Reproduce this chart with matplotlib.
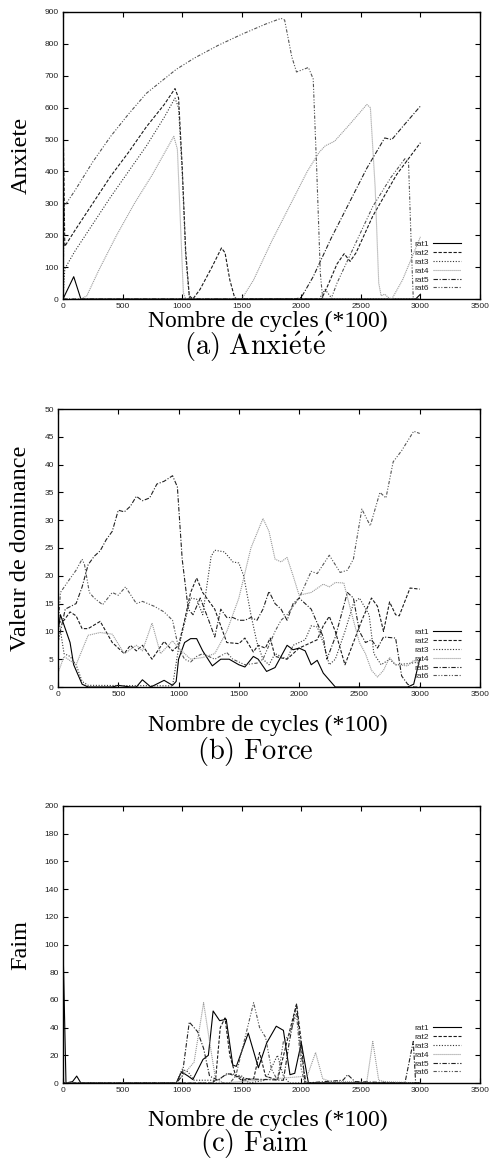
import matplotlib
matplotlib.use("Agg")
import matplotlib.pyplot as plt

# noms des series
rats = ["rat1", "rat2", "rat3", "rat4", "rat5", "rat6"]

# (a) Anxiete : points (cycle, valeur)
anx_rat1 = [(0, 0), (90, 70), (150, 0), (2960, 0), (3000, 15)]
anx_rat2 = [(0, 600), (15, 165), (100, 215), (250, 300), (400, 385), (550, 460), (700, 540),
            (850, 610), (940, 660), (970, 630), (1000, 420), (1030, 150), (1060, 10), (1090, 0),
            (1150, 30), (1250, 100), (1330, 160), (1360, 145), (1400, 60), (1440, 5), (1460, 0),
            (2170, 0), (2220, 40), (2300, 110), (2360, 142), (2410, 118), (2460, 145), (2600, 260),
            (2800, 390), (3000, 490)]
anx_rat3 = [(0, 0), (15, 95), (100, 150), (250, 235), (400, 320), (550, 400), (700, 480),
            (850, 570), (940, 630), (970, 600), (1000, 400), (1030, 130), (1060, 5), (1090, 0),
            (2150, 0), (2200, 30), (2260, 0), (3000, 0)]
anx_rat4 = [(0, 0), (150, 0), (200, 10), (300, 90), (450, 200), (600, 300), (750, 390), (930, 510),
            (960, 470), (990, 200), (1010, 20), (1030, 0), (1500, 0), (1600, 60), (1750, 180),
            (1900, 290), (2050, 400), (2150, 460), (2200, 480), (2280, 495), (2400, 545),
            (2550, 610), (2580, 600), (2620, 350), (2650, 50), (2670, 10), (2700, 15), (2730, 5),
            (2760, 0), (2850, 60), (2950, 150), (3000, 195)]
anx_rat5 = [(0, 0), (1950, 0), (2000, 5), (2100, 70), (2250, 190), (2400, 300), (2550, 410),
            (2700, 505), (2760, 500), (2850, 540), (3000, 605)]
anx_rat6 = [(0, 0), (10, 290), (100, 340), (250, 430), (400, 510), (550, 580), (700, 645),
            (850, 690), (950, 720), (1100, 755), (1300, 795), (1500, 830), (1700, 862), (1830, 880),
            (1860, 875), (1920, 760), (1960, 712), (2060, 726), (2100, 690), (2130, 400),
            (2160, 80), (2180, 0), (2250, 0), (2300, 50), (2450, 170), (2600, 290), (2750, 380),
            (2870, 440), (2900, 430), (2920, 200), (2940, 0), (3000, 0)]

# (b) Force
force_rat1 = [(0, 10), (20, 13), (100, 8), (130, 4), (200, 0.5), (250, 0), (450, 0), (500, 0.3),
              (600, 0), (650, 0), (700, 1.3), (770, 0), (880, 1.2), (950, 0.3), (980, 1), (1000, 5),
              (1050, 8), (1100, 8.7), (1150, 8.7), (1200, 6.5), (1280, 3.8), (1350, 5), (1420, 5),
              (1500, 4), (1550, 3.6), (1620, 5.5), (1660, 5), (1730, 2.8), (1800, 3.5), (1900, 7.5),
              (1950, 6.7), (2000, 7), (2050, 6.5), (2100, 4), (2150, 4.8), (2200, 2.5), (2300, 0),
              (2900, 0), (2950, 0.5), (3000, 5)]
force_rat2 = [(0, 11.5), (50, 12), (100, 13.5), (150, 12.8), (200, 10.5), (250, 10.5), (350, 11.8),
              (450, 8), (550, 6), (600, 7.5), (650, 6.5), (700, 7.5), (780, 5), (880, 8.2), (950, 6.5),
              (1000, 7.5), (1050, 12), (1100, 17), (1150, 19.6), (1200, 17), (1300, 14), (1400, 8),
              (1500, 7.8), (1550, 8.8), (1620, 6.3), (1660, 7.5), (1720, 7), (1760, 8.8), (1800, 5.5),
              (1900, 5), (2000, 7), (2100, 8), (2150, 8.5), (2200, 11), (2250, 12.7), (2300, 10),
              (2380, 4), (2450, 8), (2520, 12), (2600, 16), (2650, 14.5), (2700, 10), (2750, 15.3),
              (2800, 13), (2830, 12.8), (2920, 17.8), (3000, 17.6)]
force_rat3 = [(0, 13), (50, 6), (100, 5.5), (150, 4), (200, 1), (250, 0.3), (950, 0.2), (1000, 7),
              (1100, 16), (1150, 15.8), (1200, 13), (1270, 23.5), (1300, 24.6), (1380, 24.3),
              (1450, 22.5), (1500, 22.3), (1540, 20), (1600, 13), (1650, 8), (1700, 5), (1750, 4),
              (1800, 6), (1900, 5), (1950, 7.5), (2050, 8.5), (2100, 11), (2150, 10.8), (2200, 8),
              (2250, 4), (2300, 5), (2380, 10), (2450, 15), (2500, 16), (2580, 13), (2620, 6),
              (2680, 4), (2750, 5), (2800, 4), (2900, 4.2), (3000, 4.5)]
force_rat4 = [(0, 2.5), (50, 5.5), (150, 4), (250, 9.3), (350, 9.8), (450, 9.5), (550, 6), (650, 7.5),
              (700, 6.5), (780, 11.5), (850, 6), (950, 8.3), (1000, 7), (1100, 5), (1200, 5.3),
              (1300, 6), (1400, 10), (1500, 16), (1600, 25), (1700, 30.3), (1750, 28), (1800, 23),
              (1850, 22.5), (1900, 23.3), (1950, 20), (2000, 16.5), (2100, 17), (2200, 18.5),
              (2250, 18), (2300, 18.8), (2370, 18.7), (2450, 12), (2500, 8), (2550, 6), (2600, 3),
              (2650, 1.8), (2700, 3), (2750, 5.3), (2800, 4), (2900, 3.8), (2950, 4.8), (3000, 4)]
force_rat5 = [(0, 8), (60, 14), (150, 15), (200, 18), (250, 22), (300, 23.5), (350, 24.5),
              (400, 26.5), (450, 28), (500, 31.8), (550, 31.5), (600, 32.5), (650, 34.3), (700, 33.5),
              (760, 34), (820, 36.5), (880, 37), (950, 38), (990, 36), (1030, 23), (1080, 14),
              (1120, 13), (1180, 16), (1250, 12), (1300, 9), (1350, 14), (1400, 12.5), (1450, 12.5),
              (1500, 12), (1550, 12), (1600, 12.5), (1650, 12), (1700, 14), (1750, 17.2), (1800, 15),
              (1850, 14), (1900, 12), (1950, 15), (2000, 16), (2100, 14), (2200, 9), (2230, 5),
              (2300, 9), (2400, 17), (2450, 16), (2500, 10), (2550, 8), (2600, 8.5), (2650, 7),
              (2700, 9), (2800, 8.8), (2850, 2), (2900, 0.5), (2950, 0), (3000, 0)]
force_rat6 = [(0, 10), (20, 17), (100, 19.5), (150, 21), (200, 23), (220, 22), (260, 17), (300, 16),
              (370, 14.8), (450, 17), (500, 16.5), (560, 18), (650, 15), (700, 15.4), (800, 14.5),
              (880, 13.5), (950, 12), (1000, 7), (1050, 5), (1100, 4.5), (1150, 5.5), (1200, 6),
              (1300, 5), (1400, 6.2), (1450, 5), (1550, 4), (1650, 4.3), (1700, 5), (1800, 10),
              (1850, 12), (1900, 13), (2000, 16), (2100, 20.8), (2150, 20.4), (2250, 23.7),
              (2340, 20.6), (2400, 21), (2450, 23), (2520, 32), (2590, 29), (2670, 35), (2720, 34),
              (2780, 40.5), (2850, 42.5), (2950, 46), (3000, 45.6)]

# (c) Faim
faim_rat1 = [(0, 100), (25, 0), (80, 1), (115, 5), (150, 0), (950, 0), (995, 8), (1050, 5),
             (1090, 2.5), (1175, 17), (1220, 20), (1260, 52), (1315, 45), (1370, 46), (1425, 13),
             (1455, 12), (1555, 36), (1640, 11), (1710, 29), (1790, 41), (1850, 38), (1905, 6),
             (1945, 7), (2000, 29), (2060, 0), (3000, 0)]
faim_rat2 = [(0, 0), (1250, 0), (1280, 2), (1320, 40), (1360, 47), (1400, 20), (1450, 5),
             (1500, 2), (1600, 3), (1650, 22), (1700, 5), (1800, 2), (1880, 30), (1960, 57),
             (2000, 30), (2030, 0), (3000, 0)]
faim_rat3 = [(0, 0), (950, 0), (1000, 10), (1050, 8), (1100, 2), (1300, 2), (1350, 5), (1400, 7),
             (1500, 5), (1560, 0), (1700, 2), (1800, 20), (1850, 5), (1900, 0), (3000, 0)]
faim_rat4 = [(0, 0), (950, 0), (1050, 10), (1100, 15), (1180, 58), (1230, 30), (1280, 3),
             (1350, 0), (2050, 5), (2120, 22), (2180, 3), (2250, 1), (2550, 1), (2600, 30),
             (2650, 2), (2700, 1), (3000, 0)]
faim_rat5 = [(0, 0), (950, 0), (1000, 5), (1060, 44), (1130, 37), (1180, 25), (1230, 5), (1300, 2),
             (1380, 7), (1450, 5), (1550, 3), (1850, 2), (1900, 30), (1960, 57), (2000, 20),
             (2040, 0), (2350, 2), (2390, 6), (2450, 1), (2870, 0), (2940, 30), (2960, 0), (3000, 0)]
faim_rat6 = [(0, 0), (1400, 0), (1450, 5), (1520, 30), (1600, 58), (1650, 40), (1700, 33),
             (1750, 10), (1800, 2), (1850, 30), (1900, 35), (1960, 50), (2000, 10), (2030, 0),
             (3000, 0)]

anx_data = [anx_rat1, anx_rat2, anx_rat3, anx_rat4, anx_rat5, anx_rat6]
force_data = [force_rat1, force_rat2, force_rat3, force_rat4, force_rat5, force_rat6]
faim_data = [faim_rat1, faim_rat2, faim_rat3, faim_rat4, faim_rat5, faim_rat6]

# styles type gnuplot monochrome
colors = ["#000000", "#1a1a1a", "#333333", "#9a9a9a", "#222222", "#555555"]
styles = ["-", (0, (3, 1.5)), (0, (1, 1.5)), (0, (1, 0.8)),
          (0, (4, 1.5, 1, 1.5)), (0, (3, 1.5, 1, 1.5, 1, 1.5))]

SANS = "Liberation Sans"
SERIF = "Liberation Serif"


def draw_panel(fig, rect, data, ymax, ystep, ylabel, xlabel_y, caption, caption_y):
    ax = fig.add_axes(rect)
    for pts, name, c, ls in zip(data, rats, colors, styles):
        xs = [p[0] for p in pts]
        ys = [p[1] for p in pts]
        ax.plot(xs, ys, color=c, linestyle=ls, linewidth=0.8, label=name)
    ax.set_xlim(0, 3500)
    ax.set_ylim(0, ymax)
    ax.set_xticks(range(0, 3501, 500))
    ax.set_yticks(range(0, ymax + 1, ystep))
    ax.tick_params(direction="in", top=True, right=True, length=3.5, width=0.8,
                   labelsize=6, pad=3)
    for lab in ax.get_xticklabels() + ax.get_yticklabels():
        lab.set_fontfamily(SANS)
        lab.set_color("#222222")
    for sp in ax.spines.values():
        sp.set_linewidth(1.0)
    leg = ax.legend(loc="lower right", bbox_to_anchor=(0.97, 0.0), frameon=False,
                    markerfirst=False, prop={"family": SANS, "size": 6}, handlelength=3.3,
                    handletextpad=0.5, labelspacing=0.12, borderaxespad=0.4)
    for t in leg.get_texts():
        t.set_color("#222222")

    # libelles
    ymid = rect[1] + rect[3] / 2
    fig.text(21 / 490, ymid, ylabel, rotation=90, ha="center", va="center",
             family=SERIF, fontsize=17.5)
    fig.text(268 / 490, 1 - xlabel_y / 1163, "Nombre de cycles (*100)", ha="center",
             va="center", family=SERIF, fontsize=17)
    fig.text(255 / 490, 1 - caption_y / 1163, caption, ha="center", va="center",
             fontsize=20.5)
    return ax


def main():
    plt.rcParams["mathtext.fontset"] = "cm"
    fig = plt.figure(figsize=(4.9, 11.63), dpi=100)

    W, H = 490.0, 1163.0
    draw_panel(fig, [63 / W, 1 - 299 / H, 417 / W, 287 / H], anx_data, 900, 100,
               "Anxiete", 321, r"$\mathrm{(a)\ Anxi\acute{e}t\acute{e}}$", 347)
    draw_panel(fig, [58 / W, 1 - 687 / H, 422 / W, 278 / H], force_data, 50, 5,
               "Valeur de dominance", 725, r"$\mathrm{(b)\ Force}$", 751)
    draw_panel(fig, [63 / W, 1 - 1083 / H, 417 / W, 277 / H], faim_data, 200, 20,
               "Faim", 1120, r"$\mathrm{(c)\ Faim}$", 1144)

    fig.savefig("out.png", dpi=100, facecolor="white")


if __name__ == "__main__":
    main()
